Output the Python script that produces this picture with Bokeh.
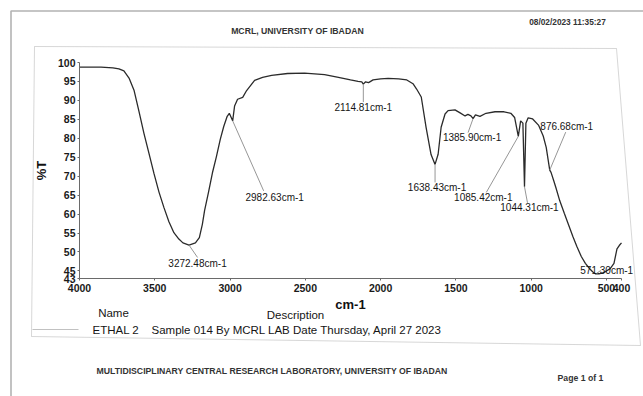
from bokeh.plotting import figure
from bokeh.models import Range1d, FixedTicker, Label, LabelSet, ColumnDataSource, PolyAnnotation
from bokeh.core.properties import value
from bokeh.embed import file_html
from bokeh.resources import INLINE

# ---------------- data ----------------
wavenumber = [4000, 3857, 3778, 3738, 3705, 3671, 3638, 3605, 3572, 3539, 3506, 3472, 3439,
              3406, 3373, 3340, 3313, 3272.48, 3230, 3204, 3184, 3169, 3143, 3117, 3091, 3065,
              3042, 3019, 3005, 2982.63, 2970, 2950, 2916, 2890, 2837, 2784, 2724, 2618, 2505,
              2372, 2280, 2200, 2150, 2125, 2114.81, 2100, 2080, 2050, 2000, 1950, 1880, 1826,
              1785, 1761, 1730, 1698, 1665, 1638.43, 1618, 1598, 1572, 1552, 1506, 1472, 1439,
              1420, 1400, 1385.90, 1370, 1340, 1300, 1240, 1180, 1135, 1110, 1085.42, 1070, 1055,
              1044.31, 1035, 1020, 990, 950, 920, 900, 888, 876.68, 868, 850, 836, 810, 780, 750,
              723, 695, 667, 640, 610, 590, 571.30, 550, 525, 503, 475, 450, 430, 415, 400]
transmittance = [98.8, 98.8, 98.6, 98.3, 97.8, 95.9, 92.7, 87.1, 81.3, 76.1, 70.8, 65.8, 61.7,
                 58.0, 55.1, 53.4, 52.4, 51.8, 52.4, 53.8, 57.3, 61.0, 65.8, 70.9, 75.1, 79.7,
                 83.1, 85.8, 86.6, 84.6, 88.5, 90.3, 90.8, 92.6, 95.3, 96.1, 96.6, 97.1, 97.2,
                 96.8, 96.1, 95.4, 95.0, 94.9, 94.3, 94.9, 94.7, 95.4, 95.7, 95.8, 95.7, 95.4,
                 94.4, 93.0, 90.9, 82.9, 75.7, 73.1, 75.8, 82.9, 86.4, 87.3, 87.5, 86.7, 85.9,
                 86.3, 85.9, 85.2, 86.2, 85.8, 86.6, 87.0, 87.0, 86.6, 85.5, 80.5, 84.6, 84.0,
                 67.2, 84.0, 85.4, 85.1, 83.4, 80.6, 77.6, 74.5, 71.6, 71.0, 68.8, 67.0, 63.5, 60.2, 57.0,
                 54.1, 51.3, 48.8, 47.0, 45.5, 44.7, 44.2, 44.2, 44.5, 44.9, 45.6, 47.0, 50.8, 51.7, 52.4]

peak_wavenumbers = [3272.48, 2982.63, 2114.81, 1638.43, 1385.90, 1085.42, 1044.31, 876.68, 571.30]

x_ticks = [4000, 3500, 3000, 2500, 2000, 1500, 1000, 500, 400]
y_ticks = [43, 45, 50, 55, 60, 65, 70, 75, 80, 85, 90, 95, 100]

# ---------------- layout (page pixels) ----------------
FONT = "Liberation Sans"
W, H = 643, 396
X0, X1, Y0, Y1 = 4000, 400, 43, 100
PXL, PXR, PYT, PYB = 79, 621, 62, 278      # where the data axes sit on the page
KX = (X0 - X1) / (PXR - PXL)               # data units per pixel
KY = (Y1 - Y0) / (PYB - PYT)


def px_to_x(px):
    return X0 - (px - PXL) * KX


def py_to_y(py):
    return Y1 - (py - PYT) * KY


p = figure(width=W, height=H,
           x_range=Range1d(px_to_x(0), px_to_x(W)),
           y_range=Range1d(py_to_y(H), py_to_y(0)),
           output_backend="svg", toolbar_location=None,
           min_border_left=0, min_border_top=0, min_border_right=0, min_border_bottom=0)
p.background_fill_color = "white"
p.border_fill_color = "white"
p.outline_line_color = None
p.xgrid.visible = False
p.ygrid.visible = False

# axes, pinned to the data corner
ax_col = "#6a6a6a"
for ax in (p.xaxis[0], p.yaxis[0]):
    ax.axis_line_color = ax_col
    ax.major_tick_line_color = ax_col
    ax.minor_tick_line_color = None
    ax.major_tick_out = 2
    ax.major_tick_in = 0
    ax.major_label_text_font = FONT
    ax.major_label_text_font_size = "10.5px"
    ax.major_label_text_font_style = "bold"
    ax.major_label_text_color = "#1a1a1a"
    ax.axis_label_text_font = FONT
    ax.axis_label_text_font_style = "bold"
    ax.axis_label_text_font_size = "13px"
    ax.axis_label_text_color = "#111111"
p.xaxis.fixed_location = Y0
p.xaxis.bounds = (X1, X0)
p.yaxis.fixed_location = X0
p.yaxis.bounds = (Y0, Y1)
p.xaxis.ticker = FixedTicker(ticks=x_ticks)
p.yaxis.ticker = FixedTicker(ticks=y_ticks)
p.xaxis.major_label_standoff = 3
p.yaxis.major_label_standoff = 2
p.xaxis.axis_label = "cm-1"
p.yaxis.axis_label = "%T"
p.xaxis.axis_label_standoff = 2
p.yaxis.axis_label_standoff = 6

# spectrum
p.line(wavenumber, transmittance, line_color="#2b2b2b", line_width=1.3)

# peak annotations
lookup = dict(zip(wavenumber, transmittance))
peak_t = [lookup[w] for w in peak_wavenumbers]
label_dx = [8.5, 42, 0, 2, -1, -35, 5, 17, 11]
label_dy = [18.3, 77, 23, 23, 19, 61, 21, -44, -3.5]
lead_dx = [0, -11, 0, -2, -4, 3, -2, -1, -6]
lead_dy = [-6, -7, -5, -5, -5, -5, -5, 6, 0]
lab_x = [w - dx * KX for w, dx in zip(peak_wavenumbers, label_dx)]
lab_y = [t - dy * KY for t, dy in zip(peak_t, label_dy)]
end_x = [x - dx * KX for x, dx in zip(lab_x, lead_dx)]
end_y = [y - dy * KY for y, dy in zip(lab_y, lead_dy)]
p.segment(x0=peak_wavenumbers, y0=peak_t, x1=end_x, y1=end_y, line_color="#8a8a8a", line_width=0.9)
src = ColumnDataSource(dict(x=lab_x, y=lab_y, text=["%.2fcm-1" % w for w in peak_wavenumbers]))
p.add_layout(LabelSet(x="x", y="y", text="text", source=src, text_font=value(FONT),
                      text_font_size="10px", text_color="#151515", text_align="center",
                      text_baseline="middle"))


def poly(points, color, width):
    p.add_layout(PolyAnnotation(xs=[px_to_x(a) for a, b in points], ys=[py_to_y(b) for a, b in points],
                                fill_alpha=0, line_color=color, line_width=width))


# page frame and chart box
poly([(10.5, 10.5), (720, 10.5), (720, 460), (10.5, 460)], "#000000", 1.6)
poly([(34, 46), (616, 48), (640, 345), (31, 336)], "#7a7a7a", 1.0)
poly([(32, 329), (78, 329)], "#333333", 1.0)


def text(s, px, py, size, style="normal", align="center", color="#151515"):
    p.add_layout(Label(x=px_to_x(px), y=py_to_y(py), text=s, text_font=FONT, text_font_size=size,
                       text_font_style=style, text_align=align, text_baseline="middle",
                       text_color=color))


text("MCRL, UNIVERSITY OF IBADAN", 297, 30, "8.7px", "bold", color="#333333")
text("08/02/2023 11:35:27", 567, 21, "8.3px", "bold", color="#333333")
text("Name", 113, 312, "11.5px")
text("Description", 295, 314, "11.5px")
text("ETHAL 2", 92, 329, "11.5px", align="left")
text("Sample 014 By MCRL LAB Date Thursday, April 27 2023", 151, 329, "11.5px", align="left")
text("MULTIDISCIPLINARY CENTRAL RESEARCH LABORATORY, UNIVERSITY OF IBADAN", 96, 370, "8.7px", "bold",
     align="left", color="#333333")
text("Page 1 of 1", 557, 377, "8.7px", "bold", align="left", color="#333333")

open("out.html", "w").write(file_html(p, INLINE))
